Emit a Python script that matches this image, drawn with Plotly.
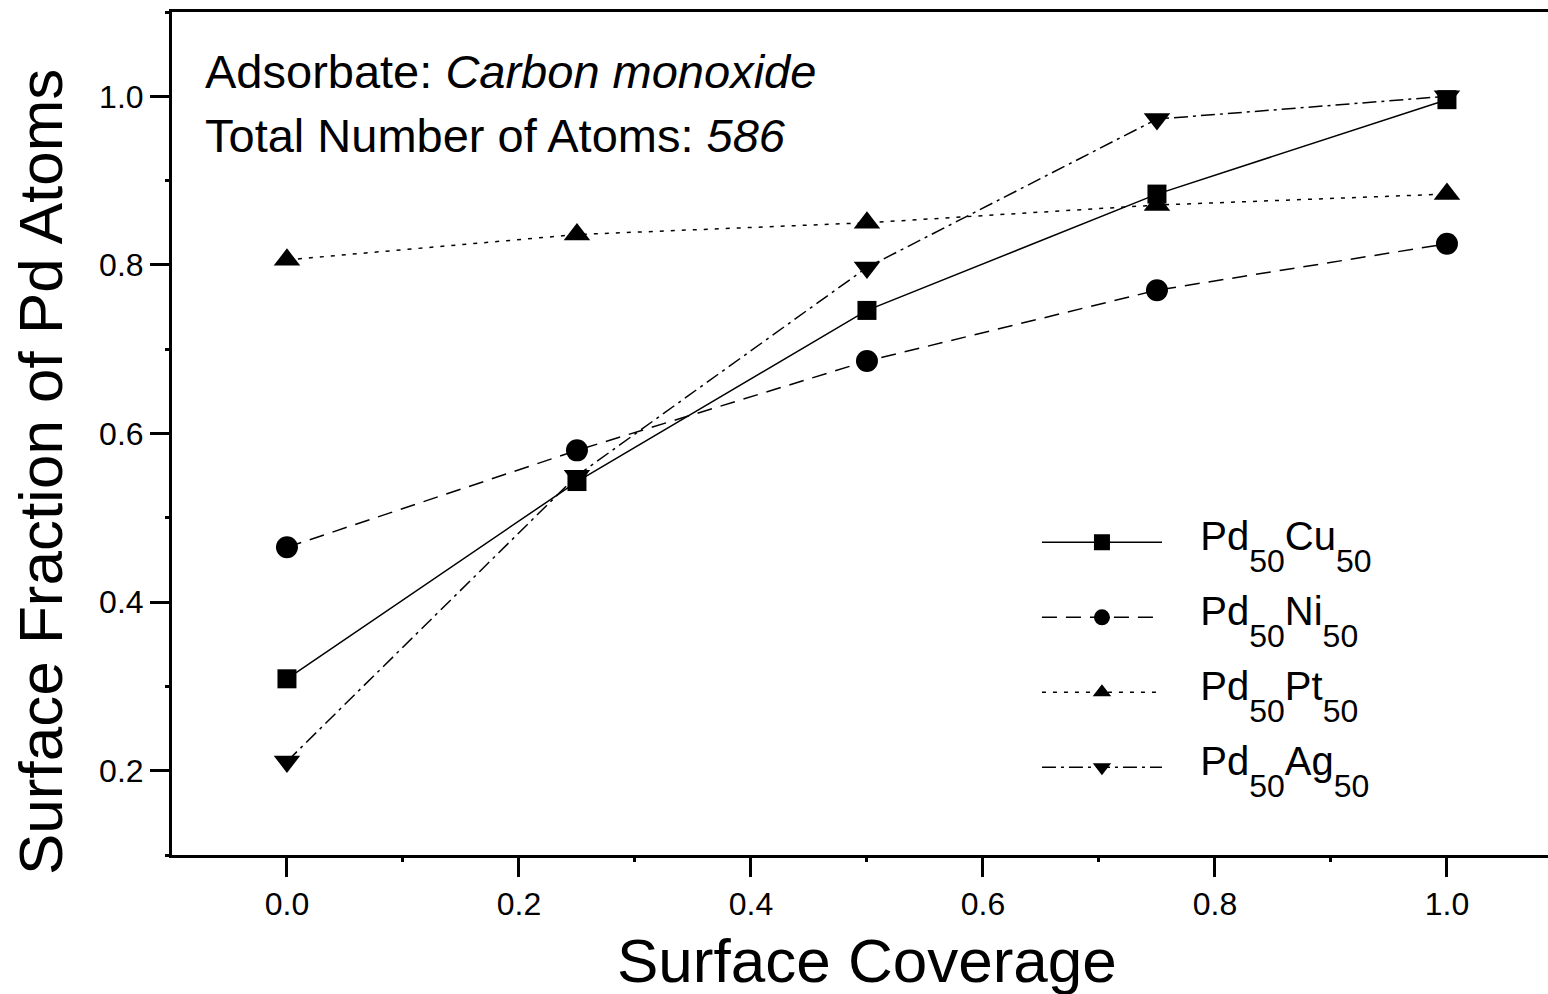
import plotly.graph_objects as go

# Surface coverage of CO (fraction of a monolayer)
coverage = [0.0, 0.25, 0.5, 0.75, 1.0]

# Surface fraction of Pd atoms for each 50/50 alloy
pd_cu = [0.309, 0.543, 0.746, 0.884, 0.996]
pd_ni = [0.465, 0.580, 0.686, 0.770, 0.825]
pd_pt = [0.806, 0.836, 0.850, 0.871, 0.884]
pd_ag = [0.211, 0.550, 0.797, 0.973, 1.000]

alloys = ["Cu", "Ni", "Pt", "Ag"]

FONT = "Liberation Sans, Arial, sans-serif"
PAD = "\u00a0\u00a0\u00a0"


def main_part(s):
    return f'<span style="baseline-shift:8px">{s}</span>'


def sub_part(s):
    return f'<span style="font-size:32px;baseline-shift:-14px">{s}</span>'


def alloy_label(metal):
    return PAD + main_part("Pd") + sub_part("50") + main_part(metal) + sub_part("50")


styles = [
    (pd_cu, "square", "solid", 19),
    (pd_ni, "circle", "15px,9px", 22),
    (pd_pt, "triangle-up", "4px,7px", 23),
    (pd_ag, "triangle-down", "14px,5px,3px,5px", 23),
]

fig = go.Figure()
for i, (metal, (ys, sym, dash, msize)) in enumerate(zip(alloys, styles)):
    fig.add_trace(go.Scatter(
        x=coverage, y=ys, name=alloy_label(metal), mode="lines+markers",
        line=dict(color="black", width=1.5, dash=dash),
        marker=dict(symbol=sym, size=msize, color="black"),
        legendgroup=f"g{i}",
    ))

axis_common = dict(
    showgrid=False, zeroline=False,
    showline=True, linecolor="black", linewidth=3,
    ticks="outside", ticklen=19, tickwidth=3, tickcolor="black",
    tickfont=dict(family=FONT, size=32, color="black"),
    minor=dict(ticks="outside", ticklen=4, tickwidth=3, tickcolor="black", dtick=0.1),
    dtick=0.2, tickformat=".1f",
)

fig.update_xaxes(**axis_common, range=[-0.0991, 1.0871], mirror=True)
fig.update_yaxes(**axis_common, range=[0.1, 1.1], tick0=0.2)

# Axis titles
fig.add_annotation(
    text="Surface Coverage", xref="paper", yref="paper",
    x=(867 - 172) / 1376, y=-0.125, xanchor="center", yanchor="middle",
    showarrow=False, font=dict(family=FONT, size=62, color="black"),
)
fig.add_annotation(
    text="Surface Fraction of Pd Atoms", xref="paper", yref="paper",
    x=(40 - 172) / 1376, y=1 - (472 - 12) / 843, xanchor="center", yanchor="middle",
    textangle=-90, showarrow=False, font=dict(family=FONT, size=62, color="black"),
)

# Simulation details
fig.add_annotation(
    text="Adsorbate: <i>Carbon monoxide</i>", xref="paper", yref="paper",
    x=0.0225, y=0.929, xanchor="left", yanchor="middle", showarrow=False,
    font=dict(family=FONT, size=47, color="black"),
)
fig.add_annotation(
    text="Total Number of Atoms: <i>586</i>", xref="paper", yref="paper",
    x=0.0225, y=0.854, xanchor="left", yanchor="middle", showarrow=False,
    font=dict(family=FONT, size=47, color="black"),
)

fig.update_layout(
    width=1548, height=994,
    margin=dict(l=172, r=0, t=12, b=139),
    paper_bgcolor="white", plot_bgcolor="white",
    showlegend=True,
    legend=dict(
        x=0.6286, y=0.4095, xanchor="left", yanchor="top",
        bgcolor="rgba(0,0,0,0)", itemwidth=120,
        font=dict(family=FONT, size=40, color="black"),
        tracegroupgap=20,
    ),
)

fig.write_html("out.html")
